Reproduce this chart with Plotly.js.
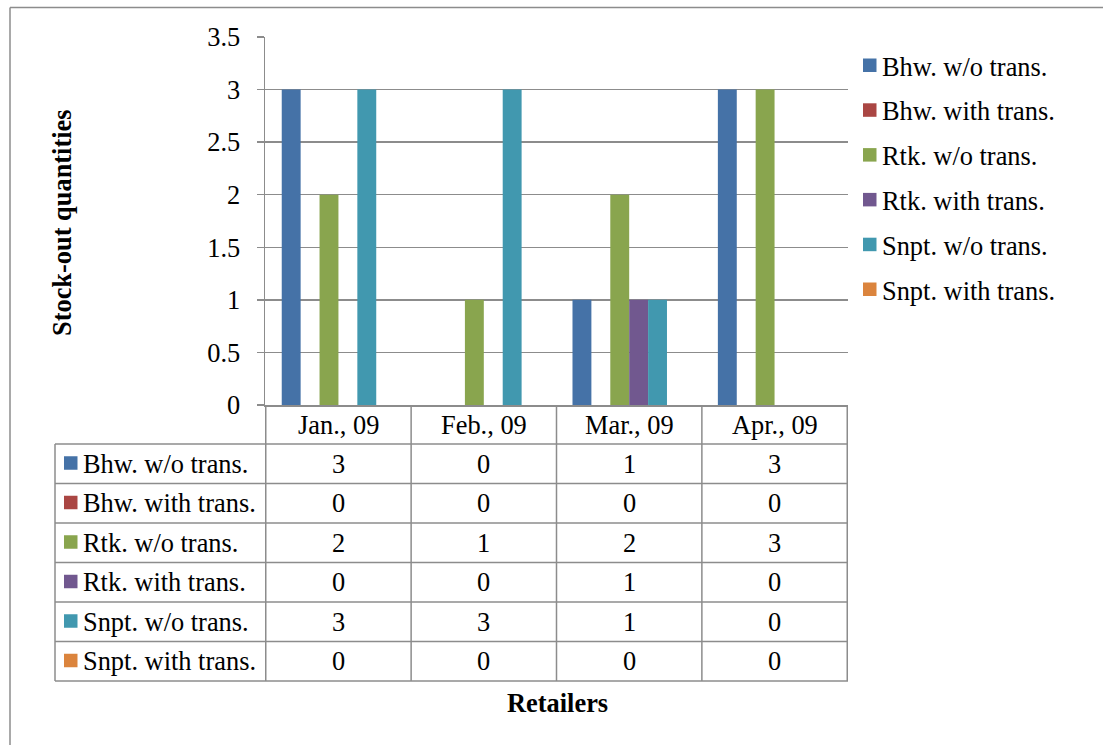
<!DOCTYPE html>
<html>
<head>
<meta charset="utf-8">
<script src="https://cdn.plot.ly/plotly-3.0.1.min.js"></script>
<style>
  html, body { margin: 0; padding: 0; background: #fff; }
  #chart { width: 1103px; height: 745px; }
</style>
</head>
<body>
<div id="chart"></div>
<script>
// Monthly stock-out quantities per retailer, with and without transshipment
const categories = ['Jan., 09', 'Feb., 09', 'Mar., 09', 'Apr., 09'];
const seriesNames = [
  'Bhw. w/o trans.',
  'Bhw. with trans.',
  'Rtk. w/o trans.',
  'Rtk. with trans.',
  'Snpt. w/o trans.',
  'Snpt. with trans.'
];
const bhwWithout  = [3, 0, 1, 3];
const bhwWith     = [0, 0, 0, 0];
const rtkWithout  = [2, 1, 2, 3];
const rtkWith     = [0, 0, 1, 0];
const snptWithout = [3, 3, 1, 0];
const snptWith    = [0, 0, 0, 0];
const seriesColors = ['#4572A7', '#AA4643', '#89A54E', '#71588F', '#4198AF', '#DB843D'];
const yTickValues = [0, 0.5, 1, 1.5, 2, 2.5, 3, 3.5];

const seriesValues = [bhwWithout, bhwWith, rtkWithout, rtkWith, snptWithout, snptWith];

// page geometry (pixels)
const W = 1103, H = 745;
const PLOT_L = 265, PLOT_R = 848, PLOT_T = 37, PLOT_B = 405;
const TABLE_L = 55, HEADER_B = 444, ROW_H = 39.5;
const GRID = '#8c8c8c';
const FONT = 'Liberation Serif, Times New Roman, serif';
const FS = 26.4;
const px = x => x / W;
const py = y => 1 - y / H;

const traces = seriesNames.map((name, i) => ({
  type: 'bar',
  name: name,
  x: categories,
  y: seriesValues[i],
  marker: { color: seriesColors[i], line: { width: 0 } },
  hoverinfo: 'x+y+name'
}));

const shapes = [];
const annotations = [];

// outer frame (top and left edges visible)
shapes.push({ type: 'line', xref: 'paper', yref: 'paper', x0: px(10), x1: px(W + 5), y0: py(7.5), y1: py(7.5), line: { color: GRID, width: 1.5 } });
shapes.push({ type: 'line', xref: 'paper', yref: 'paper', x0: px(10), x1: px(10), y0: py(7.5), y1: py(H + 5), line: { color: GRID, width: 1.5 } });

// data table below the plot
const nRows = seriesNames.length;
const tableBottom = HEADER_B + ROW_H * nRows;
for (let k = 0; k <= nRows; k++) {
  const yy = HEADER_B + ROW_H * k;
  shapes.push({ type: 'line', xref: 'paper', yref: 'paper', x0: px(TABLE_L), x1: px(PLOT_R), y0: py(yy), y1: py(yy), line: { color: GRID, width: 1.5 } });
}
shapes.push({ type: 'line', xref: 'paper', yref: 'paper', x0: px(TABLE_L), x1: px(TABLE_L), y0: py(HEADER_B), y1: py(tableBottom), line: { color: GRID, width: 1.5 } });
for (let c = 0; c <= categories.length; c++) {
  shapes.push({ type: 'line', xref: 'x', yref: 'paper', x0: c - 0.5, x1: c - 0.5, y0: py(PLOT_B), y1: py(tableBottom), line: { color: GRID, width: 1.5 } });
}

// header row: category names
categories.forEach(cat => {
  annotations.push({ xref: 'x', yref: 'paper', x: cat, y: py((PLOT_B + HEADER_B) / 2), text: cat, showarrow: false, xanchor: 'center', yanchor: 'middle', font: { family: FONT, size: FS, color: '#000' } });
});

// series rows: key, name and values
seriesNames.forEach((name, i) => {
  const yc = HEADER_B + ROW_H * i + ROW_H / 2;
  shapes.push({ type: 'rect', xref: 'paper', yref: 'paper', x0: px(64), x1: px(77.5), y0: py(yc - 7.5), y1: py(yc + 6), fillcolor: seriesColors[i], line: { width: 0 } });
  annotations.push({ xref: 'paper', yref: 'paper', x: px(81), y: py(yc), text: name, showarrow: false, xanchor: 'left', yanchor: 'middle', font: { family: FONT, size: FS, color: '#000' } });
  categories.forEach((cat, j) => {
    annotations.push({ xref: 'x', yref: 'paper', x: cat, y: py(yc), text: String(seriesValues[i][j]), showarrow: false, xanchor: 'center', yanchor: 'middle', font: { family: FONT, size: FS, color: '#000' } });
  });
});

// legend on the right
const LEG_X = 863, LEG_Y0 = 65.5, LEG_STEP = 44.8;
seriesNames.forEach((name, i) => {
  const yc = LEG_Y0 + LEG_STEP * i;
  shapes.push({ type: 'rect', xref: 'paper', yref: 'paper', x0: px(LEG_X), x1: px(LEG_X + 13.5), y0: py(yc - 7), y1: py(yc + 6.5), fillcolor: seriesColors[i], line: { width: 0 } });
  annotations.push({ xref: 'paper', yref: 'paper', x: px(LEG_X + 17), y: py(yc + 1), text: name, showarrow: false, xanchor: 'left', yanchor: 'middle', font: { family: FONT, size: FS, color: '#000' } });
});

// axis titles
annotations.push({ xref: 'paper', yref: 'paper', x: px(62), y: py(223), text: '<b>Stock-out quantities</b>', textangle: -90, showarrow: false, xanchor: 'center', yanchor: 'middle', font: { family: FONT, size: FS, color: '#000' } });
annotations.push({ xref: 'paper', yref: 'paper', x: px(557), y: py(703), text: '<b>Retailers</b>', showarrow: false, xanchor: 'center', yanchor: 'middle', font: { family: FONT, size: FS, color: '#000' } });

const layout = {
  width: W,
  height: H,
  margin: { l: 0, r: 0, t: 0, b: 0 },
  paper_bgcolor: '#fff',
  plot_bgcolor: '#fff',
  showlegend: false,
  barmode: 'group',
  bargap: 0.22,
  bargroupgap: 0,
  font: { family: FONT, size: FS, color: '#000' },
  xaxis: {
    domain: [px(PLOT_L), px(PLOT_R)],
    type: 'category',
    showticklabels: false,
    ticks: '',
    showgrid: false,
    showline: true,
    linecolor: GRID,
    linewidth: 1.5,
    fixedrange: true
  },
  yaxis: {
    domain: [py(PLOT_B), py(PLOT_T)],
    range: [0, 3.5],
    tickvals: yTickValues,
    ticktext: yTickValues.map(String),
    ticks: 'outside',
    ticklen: 7,
    tickwidth: 1.5,
    tickcolor: GRID,
    ticklabelstandoff: 11,
    showgrid: true,
    gridcolor: GRID,
    gridwidth: 1.3,
    zeroline: false,
    showline: true,
    linecolor: GRID,
    linewidth: 1.5,
    tickfont: { family: FONT, size: FS, color: '#000' },
    fixedrange: true
  },
  shapes: shapes,
  annotations: annotations
};

Plotly.newPlot('chart', traces, layout, { displayModeBar: false, staticPlot: true });
</script>
</body>
</html>
